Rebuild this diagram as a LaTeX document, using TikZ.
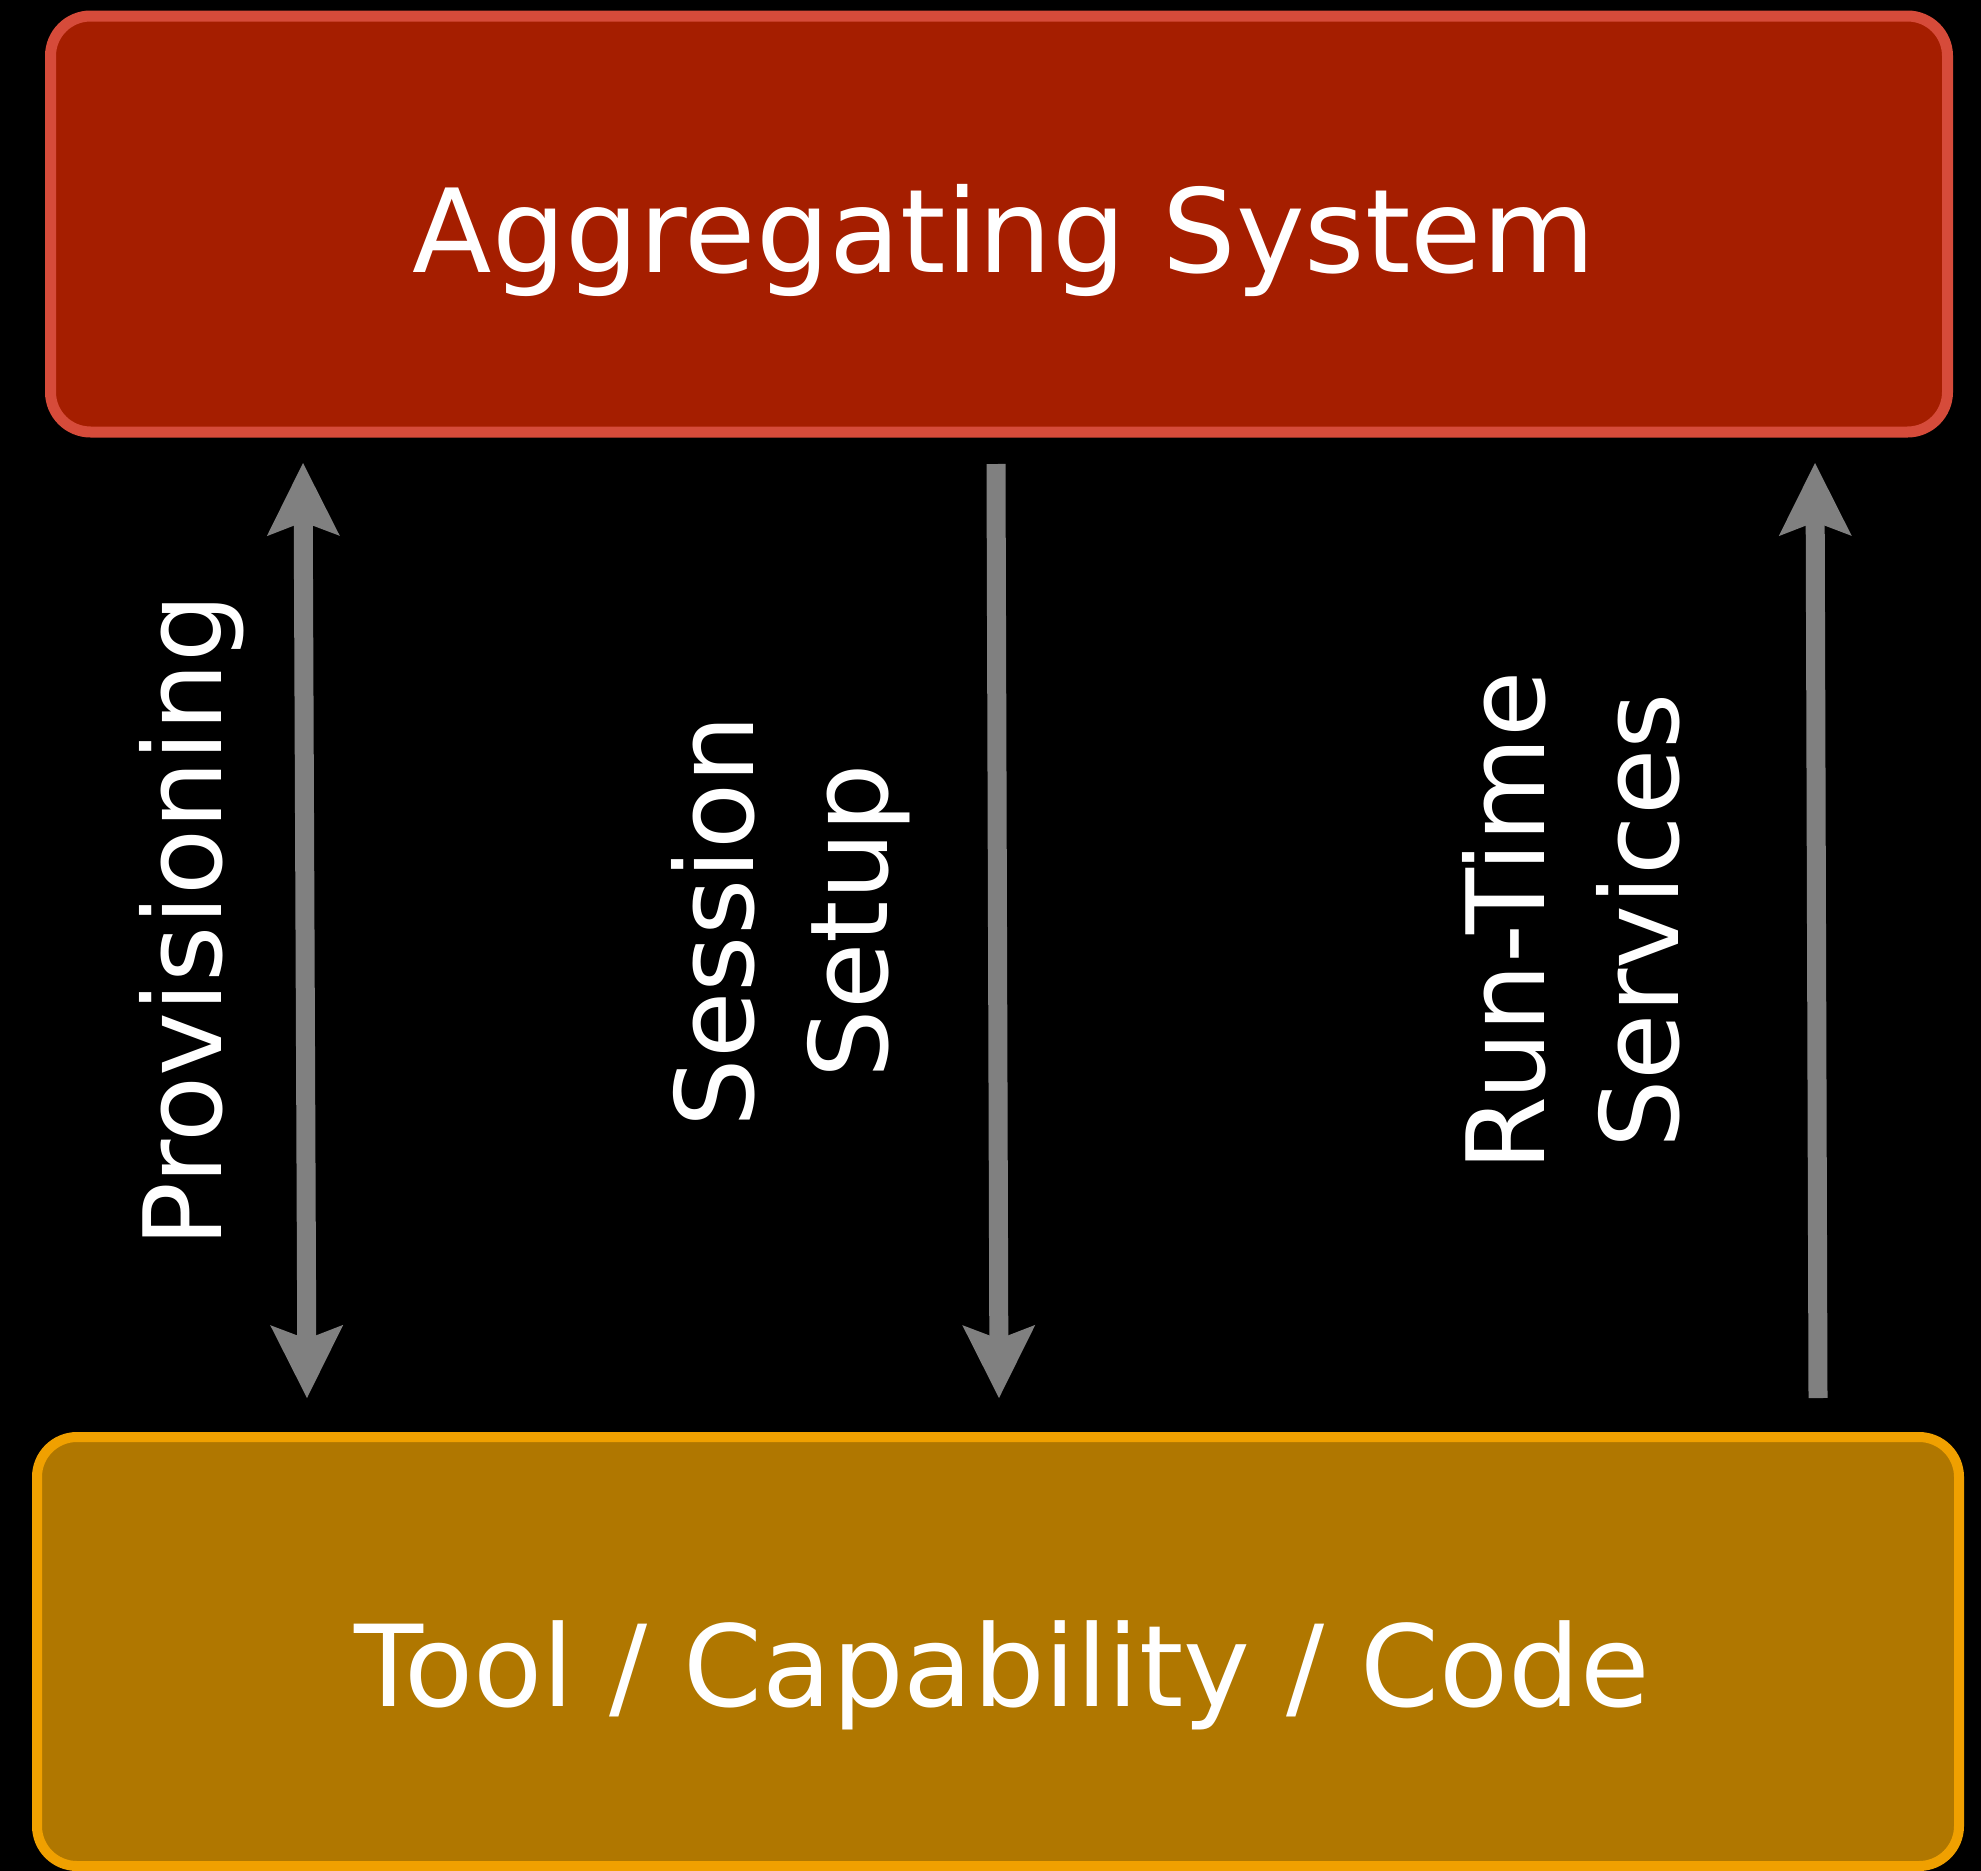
\documentclass[tikz,border=0pt]{standalone}
\usepackage{fontspec}
\setmainfont{DejaVu Sans}
\usetikzlibrary{arrows.meta}
\definecolor{aggfill}{RGB}{165,30,0}
\definecolor{aggline}{RGB}{214,75,58}
\definecolor{toolfill}{RGB}{176,119,0}
\definecolor{toolline}{RGB}{240,160,0}
\definecolor{arrowgray}{RGB}{128,128,128}
\begin{document}
\begin{tikzpicture}[x=1pt,y=-1pt,
  box/.style={rectangle, rounded corners=40pt, inner sep=0pt, outer sep=0pt},
  lbl/.style={text=white, inner sep=0pt, outer sep=0pt},
  big/.style={font=\fontsize{116}{134}\selectfont},
  mid/.style={font=\fontsize{113}{134}\selectfont},
  side/.style={font=\fontsize{108}{134}\selectfont, align=center, rotate=90},
  flow/.style={draw=arrowgray, line width=19pt, line cap=butt},
  tipsty/.tip={Stealth[length=73pt, width=73pt, inset=14pt, line width=0pt]}
]
\useasboundingbox (0,0) rectangle (1981,1871);
\fill[black] (0,0) rectangle (1981,1871);

\node[box, draw=aggline, fill=aggfill, line width=11pt,
      minimum width=1897pt, minimum height=416pt] (agg) at (999,224) {};
\node[box, draw=toolline, fill=toolfill, line width=10pt,
      minimum width=1922pt, minimum height=429pt] (tool) at (998,1651.5) {};

\node[lbl, big, anchor=base] (aggtxt) at (1004,272) {Aggregating System};
\node[lbl, mid, anchor=base] (tooltxt) at (1002,1706) {Tool / Capability / Code};

\node[lbl, side, anchor=base] (prov) at (221,921) {Provisioning};
\node[lbl, side] (sess) at (791,921) {Session\\Setup};
\node[lbl, side] (rts) at (1571,921) {Run-Time\\Services};

\coordinate (p1) at (303,463);
\coordinate (p2) at (307,1398);
\coordinate (m1) at (996,464);
\coordinate (m2) at (999,1398);
\coordinate (r1) at (1818,1398);
\coordinate (r2) at (1815,463);

\draw[flow, tipsty-tipsty] (p1) -- (p2);
\draw[flow, -tipsty] (m1) -- (m2);
\draw[flow, -tipsty] (r1) -- (r2);
\end{tikzpicture}
\end{document}
